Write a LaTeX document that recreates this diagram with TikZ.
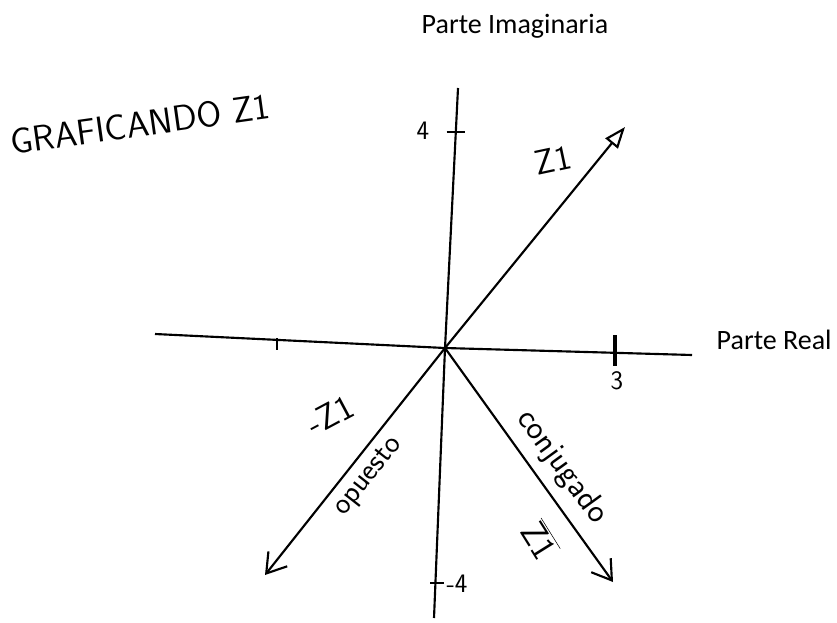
\documentclass[tikz,border=0pt]{standalone}
\usepackage{fontspec}
\setmainfont{Carlito}
\usetikzlibrary{arrows.meta}
\begin{document}
\begin{tikzpicture}[x=0.75pt,y=-0.75pt,
  axis/.style={line width=1.6pt,black},
  vec/.style={line width=1.6pt,black},
  hand/.style={font=\fontsize{20}{22}\selectfont\sffamily},
  big/.style={font=\fontsize{26}{28}\selectfont\sffamily},
  lbl/.style={font=\fontsize{21}{24}\selectfont},
  tk/.style={line width=1.5pt}]
\useasboundingbox (0,0) rectangle (837,623);
% axes
\coordinate (O) at (445,348);
\coordinate (xl) at (155,334);
\coordinate (xr) at (692,355);
\coordinate (yt) at (458,88);
\coordinate (yb) at (434,618);
\draw[axis] (xl) -- (O) -- (xr);
\draw[axis] (yt) -- (O) -- (yb);
% ticks
\coordinate (t4) at (456,132);
\coordinate (tm4) at (437,583);
\coordinate (t3) at (615,351);
\coordinate (tm3) at (277,338);
\draw[tk] ([xshift=-7]t4) -- ([xshift=7]t4);
\draw[tk] ([xshift=-5]tm4) -- ([xshift=5]tm4);
\draw[line width=2.6pt] ([yshift=-11]t3) -- ([yshift=12]t3);
\draw[tk] (tm3) -- ([yshift=-9]tm3);
% vectors
\coordinate (z) at (625,127);
\coordinate (mz) at (265,575);
\coordinate (cz) at (613,582);
\draw[vec,-{Triangle[open,length=16pt,width=12pt,line width=1.6pt]}] (O) -- (z);
\draw[vec,-{Straight Barb[length=14pt,width=18pt,line width=1.6pt]}] (O) -- (mz);
\draw[vec,-{Straight Barb[length=14pt,width=18pt,line width=1.6pt]}] (O) -- (cz);
% labels
\node[lbl] (pi) at (515,26) {Parte Imaginaria};
\node[lbl,anchor=west] (pr) at (712,340) {Parte Real};
\node[hand] (n4) at (423,131) {4};
\node[hand] (nm4) at (457,584) {-4};
\node[hand] (n3) at (617,381) {3};
\node[big,font=\fontsize{27}{29}\selectfont\sffamily,rotate=8] (title) at (140,124) {GRAFICANDO Z1};
\node[big,rotate=12] (lz) at (553,160) {Z1};
\node[big,rotate=28] (lmz) at (330,415) {-Z1};
\node[hand,font=\fontsize{23}{25}\selectfont\sffamily,rotate=52] (op) at (369,477) {opuesto};
\node[hand,font=\fontsize{25}{27}\selectfont\sffamily,rotate=-54] (con) at (562,467) {conjugado};
\node[big,rotate=-58] (lcz) at (540,540) {$\overline{\mbox{Z1}}$};
\end{tikzpicture}
\end{document}
